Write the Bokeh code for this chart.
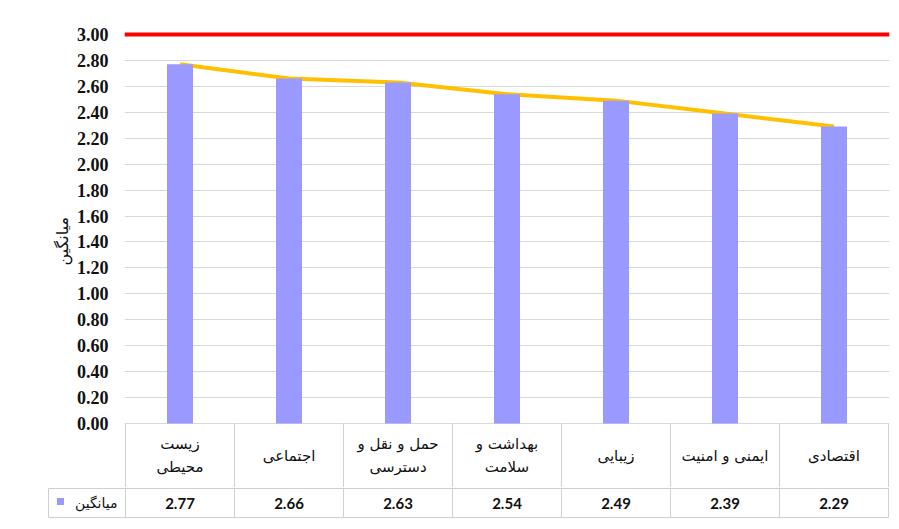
from bokeh.plotting import figure
from bokeh.models import Range1d, FixedTicker, NumeralTickFormatter, Span, Title, ColumnDataSource
from bokeh.embed import file_html
from bokeh.resources import INLINE
from bokeh.core.properties import value

# ---------------- data ----------------
categories = ["زیست\nمحیطی", "اجتماعی", "حمل و نقل و\nدسترسی", "بهداشت و\nسلامت",
              "زیبایی", "ایمنی و امنیت", "اقتصادی"]
means = [2.77, 2.66, 2.63, 2.54, 2.49, 2.39, 2.29]
series_name = "میانگین"
target = 3.00
y_ticks = [0.0, 0.2, 0.4, 0.6, 0.8, 1.0, 1.2, 1.4, 1.6, 1.8, 2.0, 2.2, 2.4, 2.6, 2.8, 3.0]

# ---------------- layout constants ----------------
PX = 109.0            # pixels per category
UY = 389.0 / 3.0      # pixels per y unit
n = len(categories)
centers = [i + 0.5 for i in range(n)]
GRID = "#d9d9d9"
TABLE = "#d0d0d0"
BAR = "#9999FF"
PERSIAN = "DejaVu Sans"

y_top = 3.0 + 4.0 / UY
y_bot = y_top - 457.0 / UY

src = ColumnDataSource(dict(x=centers, top=means, cat=categories,
                            lab=["%.2f" % v for v in means]))

p1 = figure(frame_width=765, frame_height=457,
            x_range=Range1d(-1.0 / PX, n + 1.0 / PX),
            y_range=Range1d(y_bot, y_top),
            x_axis_location=None, toolbar_location=None, output_backend="svg",
            min_border_left=124, min_border_right=6, min_border_top=30, min_border_bottom=0,
            outline_line_color=None, background_fill_color="white")

ax = p1.yaxis[0]
ax.ticker = FixedTicker(ticks=y_ticks)
ax.formatter = NumeralTickFormatter(format="0.00")
ax.axis_line_color = None
ax.major_tick_line_color = None
ax.minor_tick_line_color = None
ax.major_tick_out = 0
ax.major_tick_in = 0
ax.major_label_standoff = 16
ax.major_label_text_font = "Liberation Serif"
ax.major_label_text_font_style = "bold"
ax.major_label_text_font_size = "18px"
ax.major_label_text_color = "#111111"

p1.xgrid.visible = False
p1.ygrid.ticker = FixedTicker(ticks=y_ticks)
p1.ygrid.grid_line_color = GRID

# y-axis title
ttl = Title(text=series_name, align="left", offset=222,
            text_font=PERSIAN, text_font_size="16px", text_font_style="normal",
            text_color="#111111", standoff=4)
p1.add_layout(ttl, "left")

# trend line behind the bars
p1.line(x="x", y="top", source=src, line_color="#FFC000", line_width=4)
p1.vbar(x="x", top="top", bottom=0, width=26.0 / PX, source=src,
        fill_color=BAR, line_color=None)
p1.add_layout(Span(location=target, dimension="width", line_color="#FF0000", line_width=4))

# table row 1 (category labels)
vx = list(range(n + 1))
p1.segment(x0=vx, x1=vx, y0=[0] * (n + 1), y1=[y_bot] * (n + 1), line_color=TABLE, line_width=1)
p1.text(x="x", y=y_bot / 2.0, text="cat", source=src, text_align="center",
        text_baseline="middle", text_font=value(PERSIAN), text_font_size="15px",
        text_color="#111111", text_line_height=1.3)

# ---------------- row 2 (values) ----------------
left_edge = -(125.0 - 48.0) / PX
p2 = figure(frame_width=842, frame_height=32,
            x_range=Range1d(-(125.0 - 47.0) / PX, n + 1.0 / PX),
            y_range=Range1d(-2.0 / 29.0, 1 + 1.0 / 29.0),
            x_axis_location=None, y_axis_location=None, toolbar_location=None,
            output_backend="svg",
            min_border_left=47, min_border_right=6, min_border_top=0, min_border_bottom=6,
            outline_line_color=None)
p2.grid.visible = False

vx2 = [left_edge] + list(range(n + 1))
p2.segment(x0=vx2, x1=vx2, y0=[0] * len(vx2), y1=[1] * len(vx2), line_color=TABLE)
p2.segment(x0=[left_edge, left_edge], x1=[n, n], y0=[0, 1], y1=[0, 1], line_color=TABLE)
p2.text(x="x", y=0.5, text="lab", source=src, text_align="center", text_baseline="middle",
        text_font=value("Lato"), text_font_style="bold", text_font_size="15px",
        text_color="#111111")
p2.text(x=[-8.0 / PX], y=[0.5], text=[series_name], text_align="right", text_baseline="middle",
        text_font=value(PERSIAN), text_font_size="14px", text_color="#111111")
p2.scatter(x=[-65.0 / PX], y=[0.55], marker="square", size=7, fill_color=BAR, line_color=None)

open("out.html", "w").write(file_html([p1, p2], INLINE))
